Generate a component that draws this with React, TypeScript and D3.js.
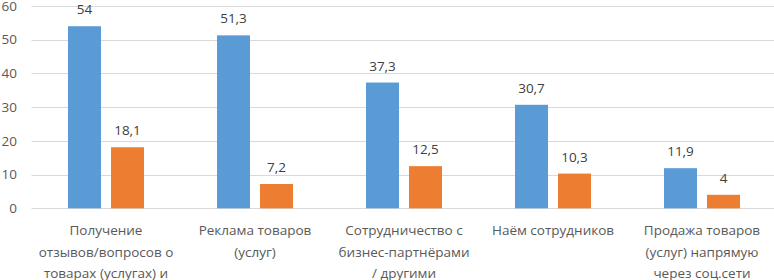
import React from "react";
import * as d3 from "d3";

const categories: string[][] = [
  ["Получение", "отзывов/вопросов о", "товарах (услугах) и"],
  ["Реклама товаров", "(услуг)"],
  ["Сотрудничество с", "бизнес-партнёрами", "/ другими"],
  ["Наём сотрудников"],
  ["Продажа товаров", "(услуг) напрямую", "через соц.сети"],
];
const seriesA: number[] = [54, 51.3, 37.3, 30.7, 11.9];
const seriesB: number[] = [18.1, 7.2, 12.5, 10.3, 4];
const yTicks: number[] = [0, 10, 20, 30, 40, 50, 60];

const W = 774;
const H = 280;
const FONT = "'Open Sans', 'DejaVu Sans', sans-serif";

export default function App() {
  const x = d3
    .scaleBand<number>()
    .domain(categories.map((_, i) => i))
    .range([31.5, 776.5])
    .paddingInner(0)
    .paddingOuter(0);
  const y = d3.scaleLinear().domain([0, 60]).range([208.3, 6]);
  const barW = 33;
  const gap = 10;
  const fmt = (v: number) => String(v).replace(".", ",");

  return (
    <svg
      width={W}
      height={H}
      style={{ position: "absolute", left: 0, top: 0, background: "#fff" }}
      fontFamily={FONT}
    >
      {yTicks.map((t) => (
        <g key={t}>
          <line
            x1={31.5}
            x2={W}
            y1={Math.round(y(t)) + 0.5}
            y2={Math.round(y(t)) + 0.5}
            stroke={t === 0 ? "#d9d9d9" : "#d9d9d9"}
            strokeWidth={1}
          />
          <text
            x={17}
            y={y(t)}
            dy="0.35em"
            textAnchor="end"
            fontSize={13.5}
            fill="#595959"
          >
            {t}
          </text>
        </g>
      ))}
      {categories.map((lines, i) => {
        const bx = x(i)!;
        const c = bx + x.bandwidth() / 2;
        const ax = c - gap / 2 - barW;
        const ox = c + gap / 2;
        return (
          <g key={i}>
            <rect x={ax} y={y(seriesA[i])} width={barW} height={y(0) - y(seriesA[i])} fill="#5B9BD5" />
            <rect x={ox} y={y(seriesB[i])} width={barW} height={y(0) - y(seriesB[i])} fill="#ED7D31" />
            <text x={ax + barW / 2} y={y(seriesA[i]) - 12} textAnchor="middle" fontSize={13.5} fill="#404040">
              {fmt(seriesA[i])}
            </text>
            <text x={ox + barW / 2} y={y(seriesB[i]) - 12} textAnchor="middle" fontSize={13.5} fill="#404040">
              {fmt(seriesB[i])}
            </text>
            {lines.map((ln, j) => (
              <text
                key={j}
                x={c}
                y={235 + j * 21.7}
                textAnchor="middle"
                fontSize={13.5}
                fill="#595959"
              >
                {ln}
              </text>
            ))}
          </g>
        );
      })}
    </svg>
  );
}
